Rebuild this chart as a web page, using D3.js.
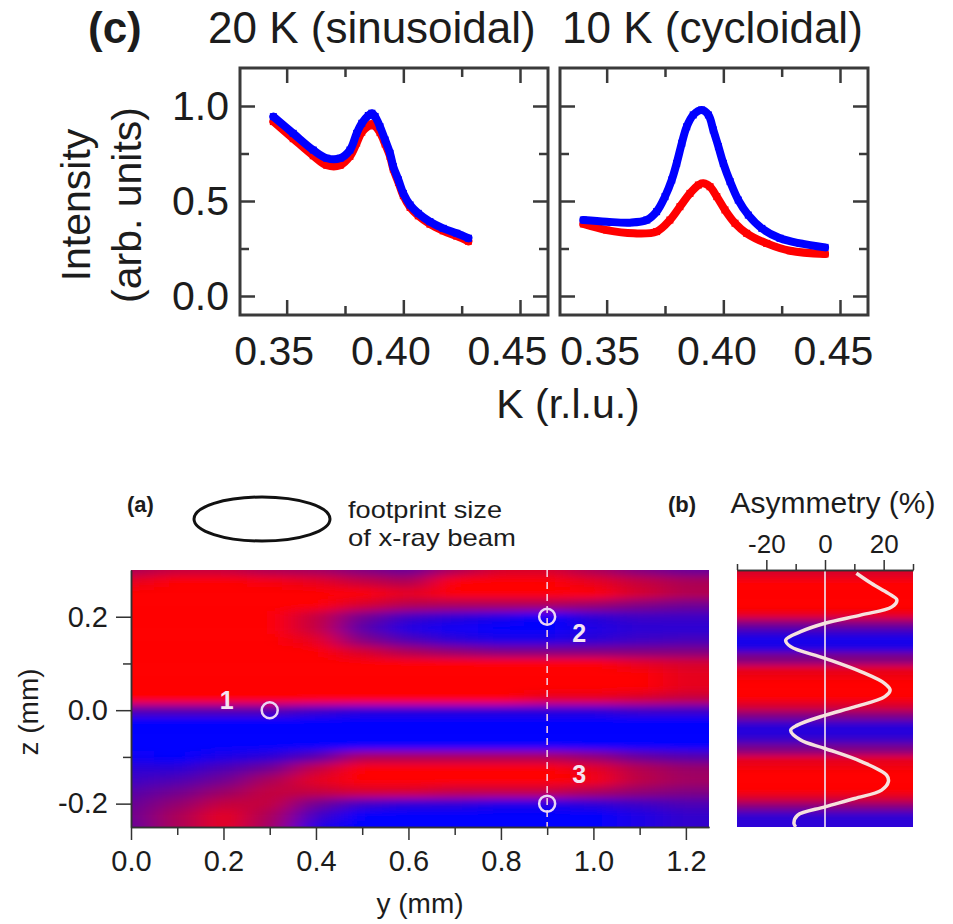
<!DOCTYPE html>
<html>
<head>
<meta charset="utf-8">
<script src="https://cdn.jsdelivr.net/npm/d3@7"></script>
<style>
  html, body { margin: 0; padding: 0; background: #ffffff; }
  svg { display: block; }
</style>
</head>
<body>
<svg id="fig" width="953" height="924"></svg>
<script>
// ---------- (c) K scans, 20 K (sinusoidal) ----------
const sinBlueK = [0.3443, 0.3528, 0.3614, 0.3672, 0.3729, 0.3771, 0.3800, 0.3822, 0.3850, 0.3865, 0.3879, 0.3900, 0.3922, 0.3943, 0.3957, 0.3979, 0.4000, 0.4029, 0.4064, 0.4114, 0.4171, 0.4229, 0.4279];
const sinBlueI = [0.944, 0.856, 0.768, 0.725, 0.725, 0.768, 0.856, 0.909, 0.950, 0.962, 0.945, 0.891, 0.821, 0.751, 0.681, 0.611, 0.540, 0.479, 0.435, 0.391, 0.356, 0.330, 0.304];
const sinRedK  = [0.3443, 0.3528, 0.3614, 0.3672, 0.3729, 0.3771, 0.3800, 0.3822, 0.3850, 0.3865, 0.3879, 0.3900, 0.3922, 0.3943, 0.3957, 0.3979, 0.4000, 0.4029, 0.4064, 0.4114, 0.4171, 0.4229, 0.4279];
const sinRedI  = [0.918, 0.828, 0.738, 0.688, 0.688, 0.735, 0.805, 0.862, 0.895, 0.905, 0.895, 0.860, 0.800, 0.735, 0.668, 0.598, 0.528, 0.466, 0.422, 0.378, 0.343, 0.315, 0.288];

// ---------- (c) K scans, 10 K (cycloidal) ----------
const cycBlueK = [0.3400, 0.3500, 0.3600, 0.3672, 0.3714, 0.3750, 0.3779, 0.3800, 0.3822, 0.3843, 0.3871, 0.3907, 0.3936, 0.3957, 0.3979, 0.4000, 0.4029, 0.4064, 0.4107, 0.4165, 0.4243, 0.4329, 0.4436];
const cycBlueI = [0.400, 0.391, 0.386, 0.400, 0.444, 0.523, 0.611, 0.698, 0.804, 0.891, 0.953, 0.979, 0.953, 0.874, 0.786, 0.698, 0.602, 0.505, 0.426, 0.356, 0.304, 0.277, 0.256];
const cycRedK  = [0.3400, 0.3500, 0.3614, 0.3714, 0.3771, 0.3814, 0.3857, 0.3893, 0.3914, 0.3943, 0.3972, 0.4007, 0.4050, 0.4100, 0.4186, 0.4286, 0.4436];
const cycRedI  = [0.379, 0.347, 0.330, 0.339, 0.400, 0.470, 0.540, 0.584, 0.593, 0.575, 0.523, 0.453, 0.383, 0.330, 0.277, 0.238, 0.221];

const kMajor = [0.35, 0.40, 0.45];
const kMinor = [0.375, 0.425];
const iMajor = [0.0, 0.5, 1.0];
const iMinor = [0.25, 0.75];

// ---------- (a) asymmetry map (%), rows = z, columns = y ----------
const mapY = [0.0, 0.1, 0.2, 0.3, 0.4, 0.5, 0.6, 0.7, 0.8, 0.9, 1.0, 1.1, 1.2];
const mapZ = [0.3, 0.275, 0.25, 0.225, 0.2, 0.175, 0.15, 0.125, 0.1, 0.075, 0.05, 0.025, 0.0,
              -0.025, -0.05, -0.075, -0.1, -0.125, -0.15, -0.175, -0.2, -0.225, -0.25];
const mapA = [
  [  5,   8,   8,   5,   4,   0,  -3,   5,  10,  10,   5,   0,  -3],
  [ 12,  15,  15,  14,  12,   8,   5,  15,  18,  18,  12,   8,   5],
  [ 18,  20,  20,  20,  18,  15,  12,  18,  18,  20,  15,  10,   6],
  [ 20,  20,  20,  20,  15,  10,   6,   5,   5,   5,   3,   0,  -2],
  [ 20,  20,  20,  18,   8,  -2,  -8, -10, -12, -15, -10,  -8,  -8],
  [ 20,  20,  20,  18,   8,  -5, -12, -14, -15, -18, -12, -10, -10],
  [ 20,  20,  20,  20,  12,   0,  -6, -10, -12, -12, -10,  -8,  -7],
  [ 20,  20,  20,  20,  18,  10,   5,   2,   0,   0,   0,   0,   0],
  [ 20,  20,  20,  20,  20,  20,  18,  18,  18,  18,  16,  12,  10],
  [ 20,  20,  20,  20,  20,  20,  20,  20,  20,  20,  18,  15,  12],
  [ 20,  20,  20,  20,  20,  20,  20,  20,  20,  20,  18,  15,  12],
  [ 15,  15,  15,  15,  15,  15,  15,  15,  15,  12,  12,  10,   8],
  [ -5,  -5,  -5,  -5,  -8, -10, -10, -10, -10, -10, -10,  -8,  -8],
  [-20, -20, -20, -20, -20, -20, -20, -20, -20, -20, -20, -20, -18],
  [-20, -20, -20, -20, -20, -20, -20, -20, -20, -20, -20, -20, -18],
  [-18, -20, -18, -18, -15, -15, -15, -15, -15, -15, -15, -16, -16],
  [-14, -15, -12, -10,  -5,   5,   5,   5,   5,   5,   2,  -3,  -5],
  [-10, -10,  -6,  -2,   8,  18,  18,  18,  18,  18,  12,   6,   3],
  [ -8,  -6,  -2,   5,  12,  20,  20,  20,  20,  20,  14,   7,   4],
  [ -5,  -2,   3,   8,   8,  10,  10,   8,   8,   8,   5,   2,   0],
  [ -3,   2,   8,   8,  -2,  -8, -10, -10, -12, -12, -10,  -8,  -6],
  [ -2,   5,  12,   5,  -8, -18, -18, -20, -20, -20, -16, -12,  -9],
  [ -3,   5,  12,   4, -12, -20, -20, -20, -20, -20, -16, -12,  -9]
];

// scan positions marked on the map
const spotY = [0.3, 0.9, 0.9];
const spotZ = [0.0, 0.2, -0.2];
const spotLabel = ["1", "2", "3"];
const scanLineY = 0.9;

const yTicksMajor = [0.0, 0.2, 0.4, 0.6, 0.8, 1.0, 1.2];
const yTicksMinor = [0.1, 0.3, 0.5, 0.7, 0.9, 1.1];
const zTicksMajor = [-0.2, 0.0, 0.2];
const zTicksMinor = [-0.1, 0.1];

// ---------- (b) asymmetry profile along z at y = 0.9 mm ----------
const profZ = [0.293, 0.271, 0.25, 0.236, 0.221, 0.204, 0.186, 0.168, 0.15, 0.136, 0.111, 0.082, 0.057, 0.043, 0.029,
               0.007, -0.011, -0.032, -0.043, -0.064, -0.082, -0.11, -0.139, -0.153, -0.171, -0.189, -0.207, -0.225, -0.242, -0.25];
const profA = [10.7, 15.9, 21.6, 24.5, 22.8, 12.4, 0, -8.3, -13.4, -11.7, 0, 12.4, 20.4, 22.2, 20.4,
               10.1, 0, -9.4, -11.7, -8.3, 0, 12.4, 21, 21.6, 19.3, 10.1, 0, -9.4, -10.6, -10];
const asymMajor = [-20, 0, 20];
const asymMinor = [-30, -10, 10, 30];

// ================= drawing =================
const FONT = '"Liberation Sans", Arial, Helvetica, sans-serif';
const INK = "#1c1c1c";
const svg = d3.select("#fig").attr("font-family", FONT);
const defs = svg.append("defs");

function cleanAxis(g, fontSize, strokeW, stroke) {
  g.attr("font-family", null).attr("font-size", null);
  g.selectAll(".domain").remove();
  g.selectAll(".tick line").attr("stroke", stroke).attr("stroke-width", strokeW);
  g.selectAll(".tick text").attr("font-size", fontSize).attr("fill", INK);
  return g;
}

// ---------- panel (c) ----------
const yI = d3.scaleLinear().domain([-0.1, 1.2]).range([315, 68]);
const kDomain = [0.33, 0.462];
const panelsC = [
  { x0: 240, x1: 548, title: "20 K (sinusoidal)", titleX: 208,
    red: [sinRedK, sinRedI], blue: [sinBlueK, sinBlueI], labelShift: -13, showY: true },
  { x0: 560, x1: 868, title: "10 K (cycloidal)", titleX: 562,
    red: [cycRedK, cycRedI], blue: [cycBlueK, cycBlueI], labelShift: -7, showY: false }
];

svg.append("text").attr("x", 88).attr("y", 43).attr("font-size", 44).attr("font-weight", "bold")
  .attr("fill", INK).text("(c)");

panelsC.forEach(p => {
  const kx = d3.scaleLinear().domain(kDomain).range([p.x0, p.x1]);
  const g = svg.append("g");

  svg.append("text").attr("x", p.titleX).attr("y", 43).attr("font-size", 44).attr("fill", INK).text(p.title);

  const line = d3.line().x(d => kx(d[0])).y(d => yI(d[1])).curve(d3.curveCatmullRom);
  [[p.red, "#ff0000"], [p.blue, "#0000ff"]].forEach(([s, col]) => {
    const pts = d3.zip(s[0], s[1]);
    g.append("path").datum(pts).attr("d", line).attr("fill", "none").attr("stroke", col)
      .attr("stroke-width", 8).attr("stroke-linecap", "round").attr("stroke-linejoin", "round");
    g.selectAll(null).data(pts).join("rect")
      .attr("x", d => kx(d[0]) - 3.5).attr("y", d => yI(d[1]) - 3.5)
      .attr("width", 7).attr("height", 7).attr("fill", col);
  });

  // inward ticks on all four sides
  const tk = (axis, tx, ty) => cleanAxis(g.append("g").attr("transform", `translate(${tx},${ty})`).call(axis), 41, 2.5, "#3a3a3a");
  const bottom = tk(d3.axisBottom(kx).tickValues(kMajor).tickSize(-15).tickPadding(21).tickFormat(d3.format(".2f")), 0, 315);
  bottom.selectAll(".tick text").attr("dx", p.labelShift);
  tk(d3.axisBottom(kx).tickValues(kMinor).tickSize(-9).tickFormat(""), 0, 315);
  tk(d3.axisTop(kx).tickValues(kMajor).tickSize(-15).tickFormat(""), 0, 68);
  tk(d3.axisTop(kx).tickValues(kMinor).tickSize(-9).tickFormat(""), 0, 68);
  tk(d3.axisLeft(yI).tickValues(iMajor).tickSize(-15).tickPadding(11)
       .tickFormat(p.showY ? d3.format(".1f") : ""), p.x0, 0);
  tk(d3.axisLeft(yI).tickValues(iMinor).tickSize(-9).tickFormat(""), p.x0, 0);
  tk(d3.axisRight(yI).tickValues(iMajor).tickSize(-15).tickFormat(""), p.x1, 0);
  tk(d3.axisRight(yI).tickValues(iMinor).tickSize(-9).tickFormat(""), p.x1, 0);

  g.append("rect").attr("x", p.x0).attr("y", 68).attr("width", p.x1 - p.x0).attr("height", 315 - 68)
    .attr("fill", "none").attr("stroke", "#3a3a3a").attr("stroke-width", 3);
});

svg.append("text").attr("transform", "translate(90,205) rotate(-90)").attr("text-anchor", "middle")
  .attr("font-size", 41).attr("fill", INK).text("Intensity");
svg.append("text").attr("transform", "translate(141,205) rotate(-90)").attr("text-anchor", "middle")
  .attr("font-size", 41).attr("fill", INK).text("(arb. units)");
svg.append("text").attr("x", 568).attr("y", 418).attr("text-anchor", "middle")
  .attr("font-size", 41).attr("fill", INK).text("K (r.l.u.)");

// ---------- panel (a) map ----------
const hy = d3.scaleLinear().domain([0, 1.25]).range([131, 709]);
const hz = d3.scaleLinear().domain([-0.25, 0.3]).range([827, 570]);
const asymColor = d3.scaleLinear().domain([-15, 15]).range(["#0000ff", "#ff0000"])
  .interpolate(d3.interpolateRgb).clamp(true);

defs.append("filter").attr("id", "mapBlur").attr("x", "-10%").attr("y", "-10%").attr("width", "120%").attr("height", "120%")
  .append("feGaussianBlur").attr("stdDeviation", "16 4.5");
defs.append("filter").attr("id", "profBlur").attr("x", "-10%").attr("y", "-10%").attr("width", "120%").attr("height", "120%")
  .append("feGaussianBlur").attr("stdDeviation", "0.1 3.5");
defs.append("clipPath").attr("id", "mapClip").append("rect")
  .attr("x", hy(0)).attr("y", hz(0.3)).attr("width", hy(1.25) - hy(0)).attr("height", hz(-0.25) - hz(0.3));

const colEdges = mapY.map((v, j) => {
  const left = j === 0 ? hy(v) - 70 : (hy(mapY[j - 1]) + hy(v)) / 2;
  const right = j === mapY.length - 1 ? hy(v) + 90 : (hy(v) + hy(mapY[j + 1])) / 2;
  return [left, right];
});
const rowEdges = mapZ.map((v, i) => {
  const top = i === 0 ? hz(v) - 30 : (hz(mapZ[i - 1]) + hz(v)) / 2;
  const bot = i === mapZ.length - 1 ? hz(v) + 30 : (hz(v) + hz(mapZ[i + 1])) / 2;
  return [top, bot];
});
const cells = [];
mapA.forEach((row, i) => row.forEach((a, j) => cells.push({ i, j, a })));

const mapG = svg.append("g").attr("clip-path", "url(#mapClip)");
mapG.append("g").attr("filter", "url(#mapBlur)")
  .selectAll("rect").data(cells).join("rect")
  .attr("x", d => colEdges[d.j][0]).attr("width", d => colEdges[d.j][1] - colEdges[d.j][0] + 0.5)
  .attr("y", d => rowEdges[d.i][0]).attr("height", d => rowEdges[d.i][1] - rowEdges[d.i][0] + 0.5)
  .attr("fill", d => asymColor(d.a));

// scan line and probed spots
svg.append("line").attr("x1", hy(scanLineY)).attr("x2", hy(scanLineY)).attr("y1", hz(0.3)).attr("y2", hz(-0.25))
  .attr("stroke", "#f2c9dc").attr("stroke-width", 1.6).attr("stroke-dasharray", "7,5");
const spots = spotY.map((y, k) => ({ y, z: spotZ[k], label: spotLabel[k] }));
svg.selectAll(null).data(spots).join("circle")
  .attr("cx", d => hy(d.y)).attr("cy", d => hz(d.z)).attr("r", 8)
  .attr("fill", "none").attr("stroke", "#ead6f6").attr("stroke-width", 2.5);
const labelOffset = { "1": [-43, -1], "2": [32, 25], "3": [32, -21] };
svg.selectAll(null).data(spots).join("text")
  .attr("x", d => hy(d.y) + labelOffset[d.label][0]).attr("y", d => hz(d.z) + labelOffset[d.label][1])
  .attr("text-anchor", "middle").attr("font-size", 25).attr("font-weight", "bold")
  .attr("fill", "#f4e4f2").text(d => d.label);

// map axes
const mAx = (axis, tx, ty, fs) => {
  const g = svg.append("g").attr("transform", `translate(${tx},${ty})`).call(axis);
  g.attr("font-family", null).attr("font-size", null);
  g.selectAll(".domain").attr("stroke", "#333").attr("stroke-width", 1.5);
  g.selectAll(".tick line").attr("stroke", "#333").attr("stroke-width", 1.5);
  g.selectAll(".tick text").attr("font-size", fs).attr("fill", INK);
  return g;
};
mAx(d3.axisLeft(hz).tickValues(zTicksMajor).tickSize(15).tickSizeOuter(0).tickPadding(8).tickFormat(d => d.toFixed(1)), hy(0), 0, 29);
mAx(d3.axisLeft(hz).tickValues(zTicksMinor).tickSize(8).tickSizeOuter(0).tickFormat(""), hy(0), 0, 29);
mAx(d3.axisBottom(hy).tickValues(yTicksMajor).tickSize(13).tickSizeOuter(0).tickPadding(10).tickFormat(d => d.toFixed(1)), 0, hz(-0.25), 29);
mAx(d3.axisBottom(hy).tickValues(yTicksMinor).tickSize(8).tickSizeOuter(0).tickFormat(""), 0, hz(-0.25), 29);

svg.append("text").attr("x", 420).attr("y", 913).attr("text-anchor", "middle")
  .attr("font-size", 28).attr("fill", INK).text("y (mm)");
svg.append("text").attr("transform", "translate(38,712) rotate(-90)").attr("text-anchor", "middle")
  .attr("font-size", 28).attr("fill", INK).text("z (mm)");

// header of (a): beam footprint
svg.append("text").attr("x", 127).attr("y", 512).attr("font-size", 22).attr("font-weight", "bold")
  .attr("fill", INK).text("(a)");
svg.append("ellipse").attr("cx", 262).attr("cy", 519).attr("rx", 68).attr("ry", 22)
  .attr("fill", "none").attr("stroke", "#111").attr("stroke-width", 3);
svg.append("text").attr("x", 348).attr("y", 518).attr("font-size", 24).attr("fill", INK)
  .attr("textLength", 154).attr("lengthAdjust", "spacingAndGlyphs").text("footprint size");
svg.append("text").attr("x", 348).attr("y", 546).attr("font-size", 24).attr("fill", INK)
  .attr("textLength", 168).attr("lengthAdjust", "spacingAndGlyphs").text("of x-ray beam");

// ---------- panel (b) ----------
const ax = d3.scaleLinear().domain([-30, 30]).range([737, 913]);
defs.append("clipPath").attr("id", "profClip").append("rect")
  .attr("x", ax(-30)).attr("y", hz(0.3)).attr("width", ax(30) - ax(-30)).attr("height", hz(-0.25) - hz(0.3));
const prof = profZ.map((z, k) => ({ z, a: profA[k], k }));
const stripEdges = prof.map((d, k) => {
  const top = k === 0 ? hz(d.z) - 30 : (hz(prof[k - 1].z) + hz(d.z)) / 2;
  const bot = k === prof.length - 1 ? hz(d.z) + 30 : (hz(d.z) + hz(prof[k + 1].z)) / 2;
  return [top, bot];
});
svg.append("g").attr("clip-path", "url(#profClip)")
  .append("g").attr("filter", "url(#profBlur)")
  .selectAll("rect").data(prof).join("rect")
  .attr("x", ax(-30) - 10).attr("width", ax(30) - ax(-30) + 20)
  .attr("y", d => stripEdges[d.k][0]).attr("height", d => stripEdges[d.k][1] - stripEdges[d.k][0] + 0.5)
  .attr("fill", d => asymColor(d.a));

svg.append("line").attr("x1", ax(0)).attr("x2", ax(0)).attr("y1", hz(0.3)).attr("y2", hz(-0.25))
  .attr("stroke", "#f3e6f3").attr("stroke-width", 1.6);
svg.append("path").datum(prof)
  .attr("d", d3.line().x(d => ax(d.a)).y(d => hz(d.z)).curve(d3.curveCatmullRom))
  .attr("fill", "none").attr("stroke", "#f6e2de").attr("stroke-width", 3.5).attr("stroke-linejoin", "round");

mAx(d3.axisTop(ax).tickValues(asymMajor).tickSize(10).tickSizeOuter(0).tickPadding(7).tickFormat(d => String(d)), 0, hz(0.3), 26);
mAx(d3.axisTop(ax).tickValues(asymMinor).tickSize(6).tickSizeOuter(0).tickFormat(""), 0, hz(0.3), 26);

svg.append("text").attr("x", 668).attr("y", 512).attr("font-size", 22).attr("font-weight", "bold")
  .attr("fill", INK).text("(b)");
svg.append("text").attr("x", 833).attr("y", 513).attr("text-anchor", "middle")
  .attr("font-size", 30).attr("fill", INK).text("Asymmetry (%)");
</script>
</body>
</html>
